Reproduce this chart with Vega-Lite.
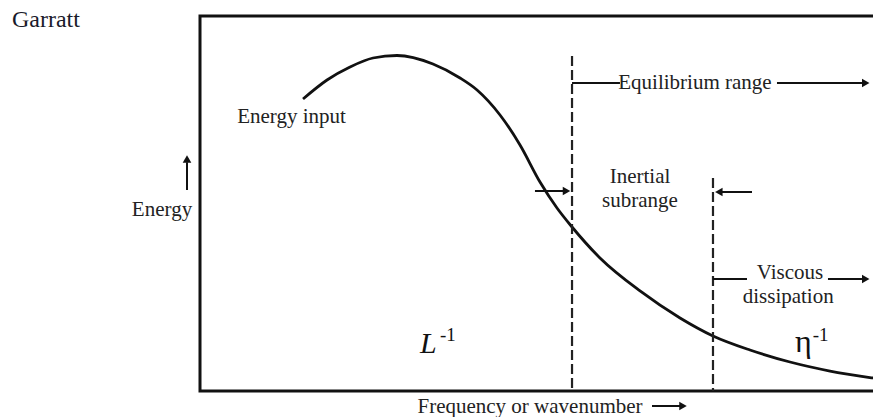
{
  "$schema": "https://vega.github.io/schema/vega-lite/v6.json",
  "width": 680,
  "height": 375,
  "autosize": {"type": "none"},
  "padding": {"left": 200, "top": 16, "right": 0, "bottom": 26},
  "background": "white",
  "config": {"view": {"stroke": "#111", "strokeWidth": 3}, "font": "Liberation Serif"},
  "datasets": {
    "curve": [
      {"f": 15.15, "e": 77.87}, {"f": 18.68, "e": 82.93}, {"f": 22.06, "e": 86.4}, {"f": 25.44, "e": 88.8},
      {"f": 28.97, "e": 89.47}, {"f": 34.26, "e": 87.2}, {"f": 38.24, "e": 83.47}, {"f": 40.74, "e": 80.27},
      {"f": 44.12, "e": 73.6}, {"f": 47.06, "e": 65.6}, {"f": 50.0, "e": 55.73}, {"f": 52.5, "e": 48.8},
      {"f": 54.71, "e": 43.73}, {"f": 58.82, "e": 35.47}, {"f": 64.71, "e": 26.67}, {"f": 70.59, "e": 19.47},
      {"f": 75.44, "e": 14.67}, {"f": 80.88, "e": 10.93}, {"f": 86.76, "e": 7.73}, {"f": 92.65, "e": 5.33},
      {"f": 98.97, "e": 3.47}, {"f": 100, "e": 3.2}
    ],
    "bounds": [
      {"name": "L^-1 boundary", "f": 54.71, "top": 89.33},
      {"name": "eta^-1 boundary", "f": 75.44, "top": 56.8}
    ],
    "segments": [
      {"f": 54.71, "f2": 61.76, "e": 82.13, "e2": 82.13},
      {"f": 84.85, "f2": 97.35, "e": 82.13, "e2": 82.13},
      {"f": 49.26, "f2": 53.6, "e": 53.33, "e2": 53.33},
      {"f": 81.18, "f2": 76.7, "e": 53.07, "e2": 53.07},
      {"f": 75.44, "f2": 80.44, "e": 29.87, "e2": 29.87},
      {"f": 92.35, "f2": 97.35, "e": 29.87, "e2": 29.87},
      {"f": -1.91, "f2": -1.91, "e": 53.6, "e2": 61.0},
      {"f": 66.47, "f2": 70.59, "e": -4.0, "e2": -4.0}
    ],
    "heads": [
      {"f": 97.9, "e": 82.13, "dir": "right"},
      {"f": 53.9, "e": 53.33, "dir": "right"},
      {"f": 76.3, "e": 53.07, "dir": "left"},
      {"f": 97.9, "e": 29.87, "dir": "right"},
      {"f": -1.91, "e": 61.9, "dir": "up"},
      {"f": 71.03, "e": -4.0, "dir": "right"}
    ],
    "labels": [
      {"f": 13.46, "e": 73.07, "text": "Energy input"},
      {"f": 72.79, "e": 82.13, "text": "Equilibrium range"},
      {"f": 64.71, "e": 57.0, "text": "Inertial"},
      {"f": 64.71, "e": 50.6, "text": "subrange"},
      {"f": 86.76, "e": 31.6, "text": "Viscous"},
      {"f": 86.5, "e": 25.0, "text": "dissipation"},
      {"f": -5.59, "e": 48.27, "text": "Energy"},
      {"f": 48.53, "e": -4.27, "text": "Frequency or wavenumber"}
    ],
    "title": [{"f": -27.65, "e": 98.93, "text": "Garratt"}],
    "math": [
      {"f": 32.35, "e": 10.13, "sym": "L"},
      {"f": 87.5, "e": 10.4, "sym": "η"}
    ],
    "sups": [
      {"f": 35.3, "e": 13.3, "text": "-1"},
      {"f": 90.1, "e": 13.3, "text": "-1"}
    ]
  },
  "layer": [
    {
      "data": {"name": "curve"},
      "mark": {"type": "line", "interpolate": "monotone", "stroke": "#111", "strokeWidth": 2.8},
      "encoding": {
        "x": {"field": "f", "type": "quantitative", "scale": {"domain": [0, 100]}, "axis": null},
        "y": {"field": "e", "type": "quantitative", "scale": {"domain": [0, 100]}, "axis": null}
      }
    },
    {
      "data": {"name": "bounds"},
      "mark": {"type": "rule", "stroke": "#222", "strokeWidth": 2.2, "strokeDash": [10, 4]},
      "encoding": {
        "x": {"field": "f", "type": "quantitative"},
        "y": {"field": "top", "type": "quantitative"},
        "y2": {"datum": 0}
      }
    },
    {
      "data": {"name": "segments"},
      "mark": {"type": "rule", "stroke": "#111", "strokeWidth": 2},
      "encoding": {
        "x": {"field": "f", "type": "quantitative"},
        "x2": {"field": "f2"},
        "y": {"field": "e", "type": "quantitative"},
        "y2": {"field": "e2"}
      }
    },
    {
      "data": {"name": "heads"},
      "mark": {"type": "point", "filled": true, "size": 75, "color": "#111", "opacity": 1},
      "encoding": {
        "x": {"field": "f", "type": "quantitative"},
        "y": {"field": "e", "type": "quantitative"},
        "shape": {"field": "dir", "type": "nominal", "legend": null,
          "scale": {"domain": ["right", "left", "up"], "range": ["triangle-right", "triangle-left", "triangle-up"]}}
      }
    },
    {
      "data": {"name": "labels"},
      "mark": {"type": "text", "fontSize": 21, "align": "center", "baseline": "middle", "fill": "#222", "font": "Liberation Serif"},
      "encoding": {
        "x": {"field": "f", "type": "quantitative"},
        "y": {"field": "e", "type": "quantitative"},
        "text": {"field": "text"}
      }
    },
    {
      "data": {"name": "title"},
      "mark": {"type": "text", "fontSize": 24, "align": "left", "baseline": "middle", "fill": "#1a1a2a", "font": "Liberation Serif"},
      "encoding": {
        "x": {"field": "f", "type": "quantitative"},
        "y": {"field": "e", "type": "quantitative"},
        "text": {"field": "text"}
      }
    },
    {
      "data": {"name": "math"},
      "transform": [{"filter": "datum.sym === 'L'"}],
      "mark": {"type": "text", "fontSize": 30, "fontStyle": "italic", "align": "left", "baseline": "alphabetic", "fill": "#111", "font": "Liberation Serif"},
      "encoding": {
        "x": {"field": "f", "type": "quantitative"},
        "y": {"field": "e", "type": "quantitative"},
        "text": {"field": "sym"}
      }
    },
    {
      "data": {"name": "math"},
      "transform": [{"filter": "datum.sym !== 'L'"}],
      "mark": {"type": "text", "fontSize": 32, "align": "left", "baseline": "alphabetic", "fill": "#111", "font": "Liberation Serif"},
      "encoding": {
        "x": {"field": "f", "type": "quantitative"},
        "y": {"field": "e", "type": "quantitative"},
        "text": {"field": "sym"}
      }
    },
    {
      "data": {"name": "sups"},
      "mark": {"type": "text", "fontSize": 19, "align": "left", "baseline": "alphabetic", "fill": "#111", "font": "Liberation Serif"},
      "encoding": {
        "x": {"field": "f", "type": "quantitative"},
        "y": {"field": "e", "type": "quantitative"},
        "text": {"field": "text"}
      }
    }
  ]
}
